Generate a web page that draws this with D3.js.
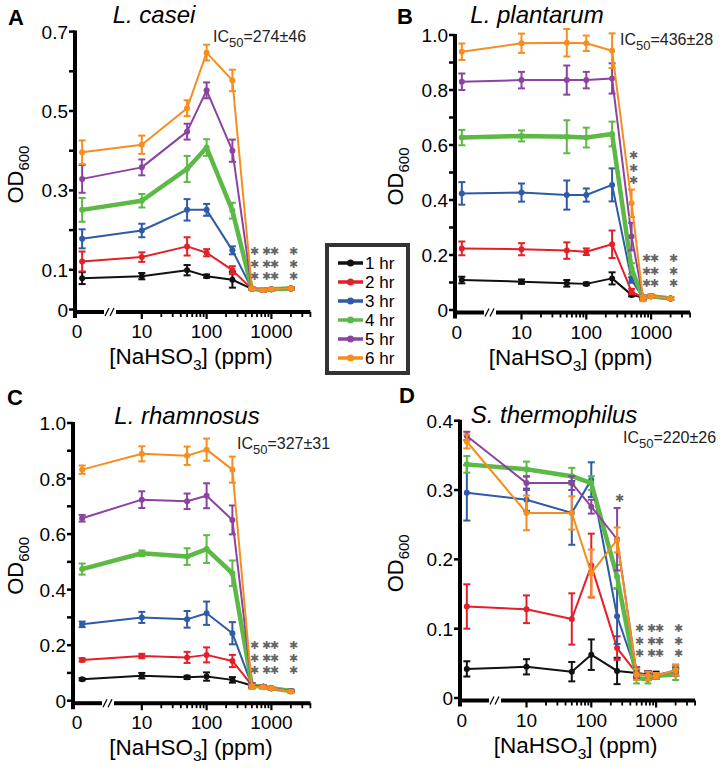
<!DOCTYPE html>
<html><head><meta charset="utf-8">
<script src="https://cdn.jsdelivr.net/npm/d3@7"></script>
<style>body{margin:0;background:#fff} svg{display:block} text{font-family:"Liberation Sans", Arial, Helvetica, sans-serif}</style>
</head><body><svg id="c" width="720" height="775"></svg>
<script>
const concentrations = [0, 10, 50, 100, 250, 500, 750, 1000, 2000];
const zeroPlottedAt = 1.2;
const seriesNames = ["1 hr", "2 hr", "3 hr", "4 hr", "5 hr", "6 hr"];
const seriesColors = ["#111111", "#e3202a", "#2e5aa7", "#5cb946", "#8b43a0", "#f68d1f"];
const xTickLabels = ["0", "10", "100", "1000"];
const xTickValues = [1, 10, 100, 1000];

// Panel A: L. casei
const caseiMean = [
  [0.079, 0.084, 0.099, 0.084, 0.075, 0.052, 0.049, 0.051, 0.053],
  [0.121, 0.132, 0.159, 0.143, 0.099, 0.052, 0.049, 0.051, 0.053],
  [0.178, 0.199, 0.251, 0.251, 0.149, 0.052, 0.049, 0.051, 0.053],
  [0.251, 0.274, 0.354, 0.408, 0.249, 0.052, 0.049, 0.051, 0.053],
  [0.329, 0.358, 0.448, 0.552, 0.400, 0.052, 0.049, 0.051, 0.053],
  [0.396, 0.415, 0.507, 0.647, 0.577, 0.052, 0.049, 0.051, 0.053]
];
const caseiErr = [
  [0.015, 0.008, 0.013, 0.004, 0.020, 0.003, 0.003, 0.003, 0.003],
  [0.025, 0.012, 0.023, 0.009, 0.010, 0.003, 0.003, 0.003, 0.003],
  [0.024, 0.017, 0.027, 0.015, 0.010, 0.003, 0.003, 0.003, 0.003],
  [0.030, 0.017, 0.033, 0.021, 0.020, 0.003, 0.003, 0.003, 0.003],
  [0.035, 0.020, 0.020, 0.020, 0.028, 0.003, 0.003, 0.003, 0.003],
  [0.030, 0.023, 0.020, 0.020, 0.027, 0.003, 0.003, 0.003, 0.003]
];
// Panel B: L. plantarum
const plantarumMean = [
  [0.109, 0.103, 0.097, 0.095, 0.115, 0.055, 0.045, 0.050, 0.042],
  [0.224, 0.221, 0.216, 0.212, 0.239, 0.067, 0.045, 0.050, 0.042],
  [0.424, 0.427, 0.418, 0.418, 0.455, 0.109, 0.045, 0.050, 0.042],
  [0.627, 0.633, 0.630, 0.627, 0.640, 0.150, 0.045, 0.050, 0.042],
  [0.830, 0.836, 0.836, 0.836, 0.842, 0.267, 0.045, 0.050, 0.042],
  [0.939, 0.970, 0.972, 0.970, 0.943, 0.388, 0.042, 0.050, 0.042]
];
const plantarumErr = [
  [0.012, 0.008, 0.012, 0.005, 0.022, 0.005, 0.005, 0.005, 0.005],
  [0.025, 0.022, 0.030, 0.012, 0.050, 0.010, 0.005, 0.005, 0.005],
  [0.041, 0.033, 0.053, 0.024, 0.060, 0.010, 0.005, 0.005, 0.005],
  [0.028, 0.020, 0.060, 0.036, 0.045, 0.020, 0.008, 0.005, 0.005],
  [0.030, 0.030, 0.053, 0.030, 0.055, 0.050, 0.008, 0.005, 0.005],
  [0.030, 0.035, 0.050, 0.028, 0.063, 0.050, 0.010, 0.005, 0.005]
];
// Panel C: L. rhamnosus
const rhamnosusMean = [
  [0.077, 0.090, 0.084, 0.087, 0.075, 0.055, 0.050, 0.045, 0.035],
  [0.147, 0.161, 0.156, 0.165, 0.143, 0.055, 0.050, 0.045, 0.035],
  [0.275, 0.300, 0.293, 0.315, 0.243, 0.055, 0.050, 0.045, 0.035],
  [0.474, 0.531, 0.519, 0.546, 0.459, 0.055, 0.050, 0.045, 0.035],
  [0.657, 0.724, 0.718, 0.738, 0.651, 0.055, 0.050, 0.045, 0.035],
  [0.832, 0.889, 0.882, 0.904, 0.832, 0.050, 0.048, 0.045, 0.032]
];
const rhamnosusErr = [
  [0.004, 0.010, 0.006, 0.015, 0.010, 0.008, 0.006, 0.004, 0.004],
  [0.006, 0.008, 0.020, 0.027, 0.022, 0.008, 0.006, 0.004, 0.004],
  [0.010, 0.020, 0.030, 0.042, 0.040, 0.008, 0.006, 0.004, 0.004],
  [0.020, 0.010, 0.030, 0.050, 0.046, 0.008, 0.006, 0.004, 0.004],
  [0.012, 0.030, 0.028, 0.045, 0.052, 0.008, 0.006, 0.004, 0.004],
  [0.015, 0.027, 0.033, 0.040, 0.047, 0.008, 0.006, 0.004, 0.004]
];
// Panel D: S. thermophilus
const thermophilusMean = [
  [0.042, 0.045, 0.038, 0.0625, 0.039, 0.036, 0.034, 0.034, 0.037],
  [0.132, 0.128, 0.114, 0.191, 0.072, 0.036, 0.032, 0.032, 0.038],
  [0.296, 0.286, 0.267, 0.315, 0.118, 0.036, 0.032, 0.032, 0.038],
  [0.337, 0.330, 0.320, 0.310, 0.175, 0.029, 0.027, 0.032, 0.034],
  [0.378, 0.310, 0.310, 0.276, 0.229, 0.036, 0.032, 0.032, 0.040],
  [0.370, 0.267, 0.267, 0.180, 0.228, 0.034, 0.032, 0.032, 0.040]
];
const thermophilusErr = [
  [0.011, 0.011, 0.014, 0.022, 0.019, 0.005, 0.005, 0.004, 0.005],
  [0.032, 0.020, 0.037, 0.046, 0.017, 0.008, 0.006, 0.004, 0.006],
  [0.040, 0.016, 0.046, 0.025, 0.040, 0.008, 0.006, 0.004, 0.006],
  [0.012, 0.011, 0.012, 0.010, 0.017, 0.008, 0.006, 0.004, 0.008],
  [0.006, 0.010, 0.010, 0.010, 0.045, 0.008, 0.006, 0.004, 0.008],
  [0.010, 0.025, 0.024, 0.034, 0.018, 0.008, 0.006, 0.004, 0.008]
];

const panelLetters = ["A", "B", "C", "D"];
const panelTitles = ["L. casei", "L. plantarum", "L. rhamnosus", "S. thermophilus"];
const ic50Values = ["=274±46", "=436±28", "=327±31", "=220±26"];
const yMaxes = [0.7, 1.0, 1.0, 0.4];
const yTickValues = [[0, 0.1, 0.3, 0.5, 0.7], [0, 0.2, 0.4, 0.6, 0.8, 1.0], [0, 0.2, 0.4, 0.6, 0.8, 1.0], [0, 0.1, 0.2, 0.3, 0.4]];
const yTickLabels = [["0", "0.1", "0.3", "0.5", "0.7"], ["0", "0.2", "0.4", "0.6", "0.8", "1.0"], ["0", "0.2", "0.4", "0.6", "0.8", "1.0"], ["0", "0.1", "0.2", "0.3", "0.4"]];
const yMinorTicks = [[0.2, 0.4, 0.6], [0.1, 0.3, 0.5, 0.7, 0.9], [0.1, 0.3, 0.5, 0.7, 0.9], []];
// significance marks: concentrations carrying three stacked asterisks, plus extra column
const sigConcs = [[500, 750, 1000, 2000], [750, 1000, 2000], [500, 750, 1000, 2000], [500, 750, 1000, 2000]];
const sigExtraConc = [null, 500, null, 250];
const sigExtraRows = [0, 3, 0, 1];

const means = [caseiMean, plantarumMean, rhamnosusMean, thermophilusMean];
const errs = [caseiErr, plantarumErr, rhamnosusErr, thermophilusErr];

// layout (pixels)
const layout = [
  {ax: 75, x1: 77, yTop: 31.6, yBot: 309.5, ylabX: 23, letter: [8, 25], title: [154, 23], ic: [213, 42], sigY: 251, extraY: 0},
  {ax: 455, x1: 456.7, yTop: 35, yBot: 310, ylabX: 403, letter: [397, 24], title: [537, 23], ic: [620, 45], sigY: 258, extraY: 155},
  {ax: 73, x1: 77, yTop: 423, yBot: 700.7, ylabX: 23, letter: [7, 405], title: [187, 424], ic: [237, 449], sigY: 645, extraY: 0},
  {ax: 460, x1: 461.7, yTop: 420.7, yBot: 698, ylabX: 403, letter: [399, 403], title: [554, 423], ic: [623, 443], sigY: 628, extraY: 498}
];
const decadePx = 64.8;
const sigFont = "DejaVu Sans, sans-serif";
const sigGlyph = "\u2731";

const svg = d3.select("#c");

layout.forEach((L, p) => {
  const g = svg.append("g");
  const x = d3.scaleLog().domain([1, 4000]).range([L.x1, L.x1 + Math.log10(4000) * decadePx]);
  const y = d3.scaleLinear().domain([0, yMaxes[p]]).range([L.yBot, L.yTop]);
  const xPos = c => x(c === 0 ? zeroPlottedAt : c);
  const axisY = L.yBot + 2.5;

  // y axis
  g.append("line").attr("x1", L.ax).attr("x2", L.ax).attr("y1", L.yTop - 1).attr("y2", axisY + 6)
    .attr("stroke", "#000").attr("stroke-width", 4);
  const allY = yTickValues[p].concat(yMinorTicks[p]);
  g.selectAll(".yt").data(allY).enter().append("line")
    .attr("x1", L.ax - 6).attr("x2", L.ax).attr("y1", d => y(d)).attr("y2", d => y(d))
    .attr("stroke", "#000").attr("stroke-width", 2.5);
  g.selectAll(".yl").data(yTickValues[p]).enter().append("text")
    .attr("x", L.ax - 7).attr("y", d => y(d) + 7).attr("text-anchor", "end")
    .attr("font-size", 19).text((d, i) => yTickLabels[p][i]);

  // x axis with break
  const brk = L.ax + 29;
  const xEnd = x(4000);
  g.append("line").attr("x1", L.ax).attr("x2", brk).attr("y1", axisY).attr("y2", axisY)
    .attr("stroke", "#000").attr("stroke-width", 4);
  g.append("line").attr("x1", brk + 12).attr("x2", xEnd).attr("y1", axisY).attr("y2", axisY)
    .attr("stroke", "#000").attr("stroke-width", 4);
  [0, 5].forEach(o => {
    g.append("line").attr("x1", brk + 1 + o).attr("x2", brk + 5 + o).attr("y1", axisY + 4).attr("y2", axisY - 4)
      .attr("stroke", "#000").attr("stroke-width", 1.3);
  });
  const minor = [];
  [10, 100, 1000].forEach(dec => { for (let k = 2; k <= 9; k++) if (dec * k <= 4000) minor.push(dec * k); });
  g.selectAll(".xm").data(minor).enter().append("line")
    .attr("x1", d => x(d)).attr("x2", d => x(d)).attr("y1", axisY).attr("y2", axisY + 5)
    .attr("stroke", "#000").attr("stroke-width", 1.8);
  g.selectAll(".xM").data(xTickValues.slice(1)).enter().append("line")
    .attr("x1", d => x(d)).attr("x2", d => x(d)).attr("y1", axisY).attr("y2", axisY + 7)
    .attr("stroke", "#000").attr("stroke-width", 2.2);
  g.selectAll(".xl").data(xTickValues).enter().append("text")
    .attr("x", d => x(d)).attr("y", axisY + 26).attr("text-anchor", "middle")
    .attr("font-size", 19).text((d, i) => xTickLabels[i]);

  // axis titles
  const xt = g.append("text").attr("x", L.x1 + 114).attr("y", axisY + 52).attr("text-anchor", "middle").attr("font-size", 22.5);
  xt.append("tspan").text("[NaHSO");
  xt.append("tspan").attr("font-size", 15.5).attr("dy", 6).text("3");
  xt.append("tspan").attr("dy", -6).text("] (ppm)");
  const ymid = (L.yTop + L.yBot) / 2 + 4;
  const yt = g.append("text").attr("transform", `translate(${L.ylabX},${ymid}) rotate(-90)`)
    .attr("text-anchor", "middle").attr("font-size", 22);
  yt.append("tspan").text("OD");
  yt.append("tspan").attr("font-size", 15).attr("dy", 6).text("600");

  // titles
  g.append("text").attr("x", L.letter[0]).attr("y", L.letter[1]).attr("font-size", 22).attr("font-weight", "bold").text(panelLetters[p]);
  g.append("text").attr("x", L.title[0]).attr("y", L.title[1]).attr("text-anchor", "middle").attr("font-size", 24).attr("font-style", "italic").text(panelTitles[p]);
  const ic = g.append("text").attr("x", L.ic[0]).attr("y", L.ic[1]).attr("font-size", 16).attr("fill", "#222");
  ic.append("tspan").text("IC");
  ic.append("tspan").attr("font-size", 13).attr("dy", 5).text("50");
  ic.append("tspan").attr("dy", -5).text(ic50Values[p]);

  // series
  const line = d3.line().x((d, i) => xPos(concentrations[i])).y(d => y(d));
  means[p].forEach((ser, s) => {
    const col = seriesColors[s];
    const sg = g.append("g");
    sg.append("path").attr("d", line(ser)).attr("fill", "none").attr("stroke", col)
      .attr("stroke-width", s === 3 ? 4.5 : 2).attr("stroke-linejoin", "round");
    ser.forEach((v, i) => {
      const cx = xPos(concentrations[i]);
      const e = errs[p][s][i];
      sg.append("line").attr("x1", cx).attr("x2", cx).attr("y1", y(v - e)).attr("y2", y(v + e)).attr("stroke", col).attr("stroke-width", 2);
      [v - e, v + e].forEach(w => sg.append("line").attr("x1", cx - 3.5).attr("x2", cx + 3.5).attr("y1", y(w)).attr("y2", y(w)).attr("stroke", col).attr("stroke-width", 2));
      sg.append("circle").attr("cx", cx).attr("cy", y(v)).attr("r", 3).attr("fill", col);
    });
  });

  // significance marks
  const marks = [];
  sigConcs[p].forEach(c => { for (let r = 0; r < 3; r++) marks.push({x: x(c) + 3, y: L.sigY + r * 12.5}); });
  if (sigExtraConc[p]) for (let r = 0; r < sigExtraRows[p]; r++) marks.push({x: x(sigExtraConc[p]) + 2, y: L.extraY + r * 12.5});
  g.selectAll(".sig").data(marks).enter().append("text")
    .attr("x", d => d.x).attr("y", d => d.y + 4).attr("text-anchor", "middle")
    .attr("font-family", sigFont).attr("font-size", 10.5).attr("fill", "#666").text(sigGlyph);
});

// legend
const lg = svg.append("g");
lg.append("rect").attr("x", 327).attr("y", 245).attr("width", 81).attr("height", 128)
  .attr("fill", "#fff").attr("stroke", "#333").attr("stroke-width", 4);
seriesNames.forEach((nm, i) => {
  const yy = 263 + i * 19;
  lg.append("line").attr("x1", 338).attr("x2", 363).attr("y1", yy).attr("y2", yy).attr("stroke", seriesColors[i]).attr("stroke-width", 3.5);
  lg.append("circle").attr("cx", 350.5).attr("cy", yy).attr("r", 3.5).attr("fill", seriesColors[i]);
  lg.append("text").attr("x", 365).attr("y", yy + 6).attr("font-size", 17).text(nm);
});
</script></body></html>
